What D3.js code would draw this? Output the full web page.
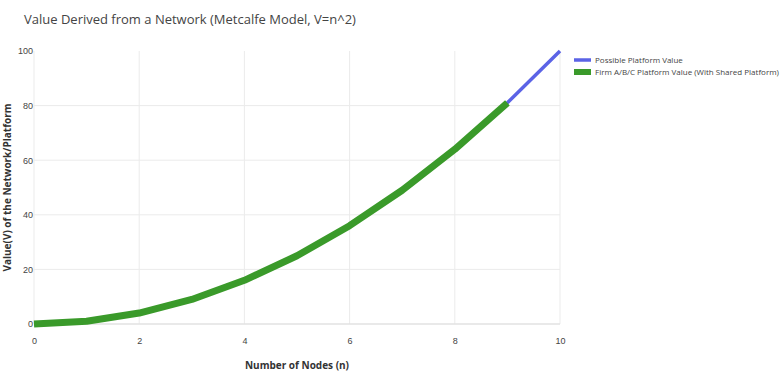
<!DOCTYPE html>
<html>
<head>
<meta charset="utf-8">
<script src="https://cdn.jsdelivr.net/npm/d3@7"></script>
<style>
  body { margin: 0; background: #fff; }
  svg { font-family: "Open Sans", "Noto Sans", sans-serif; }
  .tick text { fill: #444; font-size: 9px; }
  .grid line { stroke: #ebebeb; stroke-width: 1; }
</style>
</head>
<body>
<svg width="780" height="379"></svg>
<script>
// chart values
var possibleNodes = [0, 1, 2, 3, 4, 5, 6, 7, 8, 9, 10];
var possibleValues = [0, 1, 4, 9, 16, 25, 36, 49, 64, 81, 100];
var firmNodes = [0, 1, 2, 3, 4, 5, 6, 7, 8, 9];
var firmValues = [0, 1, 4, 9, 16, 25, 36, 49, 64, 81];
var xTicks = [0, 2, 4, 6, 8, 10];
var yTicks = [0, 20, 40, 60, 80, 100];
var seriesNames = ["Possible Platform Value", "Firm A/B/C Platform Value (With Shared Platform)"];
var seriesColors = ["#5b63e6", "#3a9a2a"];

var svg = d3.select("svg");
var plotLeft = 34, plotRight = 560, plotTop = 51, plotBottom = 324;

var x = d3.scaleLinear().domain([0, 10]).range([plotLeft, plotRight]);
var y = d3.scaleLinear().domain([0, 100]).range([plotBottom, plotTop]);

// grid
var grid = svg.append("g").attr("class", "grid");
grid.selectAll(".vx")
  .data(xTicks)
  .enter()
  .append("line")
  .attr("x1", function(d) { return x(d); })
  .attr("x2", function(d) { return x(d); })
  .attr("y1", plotTop)
  .attr("y2", plotBottom);
grid.selectAll(".hy")
  .data(yTicks.filter(function(d) { return d > 0 && d < 100; }))
  .enter()
  .append("line")
  .attr("x1", plotLeft)
  .attr("x2", plotRight)
  .attr("y1", function(d) { return y(d); })
  .attr("y2", function(d) { return y(d); });

// zero line
svg.append("line")
  .attr("x1", plotLeft).attr("x2", plotRight)
  .attr("y1", y(0)).attr("y2", y(0))
  .attr("stroke", "#e2e2e2").attr("stroke-width", 1.5);

// axes (labels only)
var xAxis = svg.append("g")
  .attr("transform", "translate(0," + (plotBottom + 14) + ")")
  .call(d3.axisBottom(x).tickValues(xTicks).tickSize(0).tickPadding(0));
xAxis.select(".domain").remove();

var yAxis = svg.append("g")
  .attr("transform", "translate(" + (plotLeft - 1) + ",0)")
  .call(d3.axisLeft(y).tickValues(yTicks).tickSize(0).tickPadding(0));
yAxis.select(".domain").remove();

// lines
var line = d3.line()
  .x(function(d) { return x(d[0]); })
  .y(function(d) { return y(d[1]); });

svg.append("path")
  .datum(d3.zip(possibleNodes, possibleValues))
  .attr("d", line)
  .attr("fill", "none")
  .attr("stroke", seriesColors[0])
  .attr("stroke-width", 3.5)
  .attr("stroke-linejoin", "round");

svg.append("path")
  .datum(d3.zip(firmNodes, firmValues))
  .attr("d", line)
  .attr("fill", "none")
  .attr("stroke", seriesColors[1])
  .attr("stroke-width", 7)
  .attr("stroke-linejoin", "round");

// titles
svg.append("text")
  .attr("x", 24).attr("y", 24)
  .attr("font-size", 13).attr("fill", "#444")
  .text("Value Derived from a Network (Metcalfe Model, V=n^2)");

svg.append("text")
  .attr("x", (plotLeft + plotRight) / 2).attr("y", 369)
  .attr("text-anchor", "middle")
  .attr("font-size", 10).attr("font-weight", "bold").attr("fill", "#333")
  .text("Number of Nodes (n)");

svg.append("text")
  .attr("transform", "translate(11," + ((plotTop + plotBottom) / 2) + ") rotate(-90)")
  .attr("text-anchor", "middle")
  .attr("font-size", 10).attr("font-weight", "bold").attr("fill", "#333")
  .text("Value(V) of the Network/Platform");

// legend
var legend = svg.selectAll(".legend")
  .data(seriesNames)
  .enter()
  .append("g")
  .attr("class", "legend")
  .attr("transform", function(d, i) { return "translate(574," + (60 + i * 12) + ")"; });

legend.append("line")
  .attr("x1", 0).attr("x2", 17)
  .attr("stroke", function(d, i) { return seriesColors[i]; })
  .attr("stroke-width", function(d, i) { return i == 0 ? 3.5 : 6; });

legend.append("text")
  .attr("x", 21).attr("dy", "0.35em")
  .attr("font-size", 8).attr("fill", "#444")
  .text(function(d) { return d; });
</script>
</body>
</html>
